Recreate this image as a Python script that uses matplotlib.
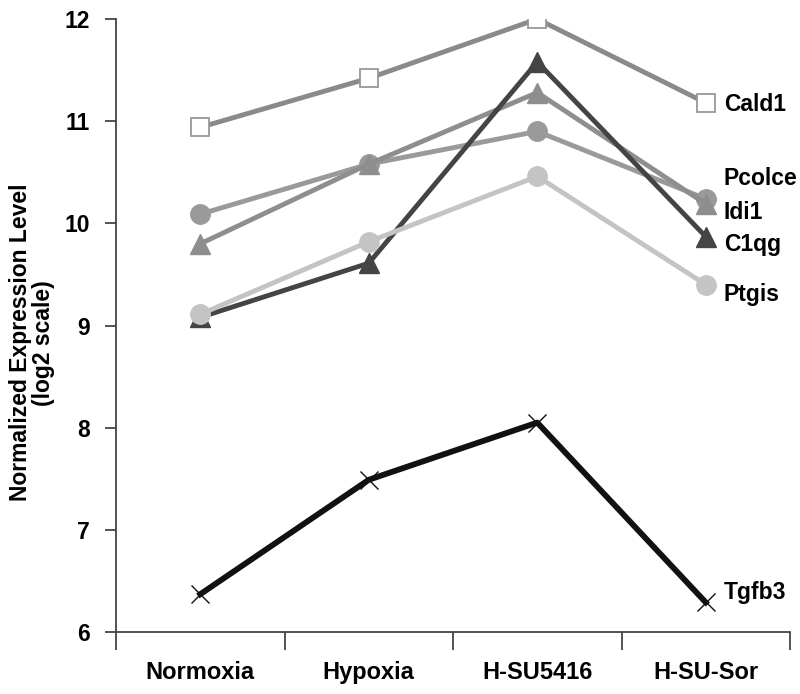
import matplotlib.pyplot as plt

conditions = ['Normoxia', 'Hypoxia', 'H-SU5416', 'H-SU-Sor']
genes = ['Cald1', 'Pcolce', 'Idi1', 'C1qg', 'Ptgis', 'Tgfb3']

cald1 = [10.94, 11.42, 12.00, 11.18]
pcolce = [10.09, 10.58, 10.90, 10.24]
idi1 = [9.80, 10.58, 11.28, 10.19]
c1qg = [9.08, 9.61, 11.58, 9.87]
ptgis = [9.11, 9.82, 10.46, 9.40]
tgfb3 = [6.37, 7.49, 8.05, 6.29]

# label heights at the right end (data units)
label_y = [11.16, 10.44, 10.11, 9.79, 9.30, 6.39]

plt.rcParams['font.family'] = 'Liberation Sans'
plt.rcParams['font.weight'] = 'bold'

fig = plt.figure(figsize=(8, 6.94), dpi=100)
ax = fig.add_axes([0.145, 0.0893, 0.8425, 0.8833])

x = [0.5, 1.5, 2.5, 3.5]
series = [
    (cald1, dict(color='#8a8a8a', marker='s', markersize=13, markerfacecolor='white',
                 markeredgecolor='#999999', markeredgewidth=1.3, linewidth=3.5)),
    (pcolce, dict(color='#9a9a9a', marker='o', markersize=14, linewidth=3.5)),
    (idi1, dict(color='#8e8e8e', marker='^', markersize=14, linewidth=3.5)),
    (c1qg, dict(color='#444444', marker='^', markersize=14, linewidth=3.5)),
    (ptgis, dict(color='#c4c4c4', marker='o', markersize=14, linewidth=3.5)),
    (tgfb3, dict(color='#111111', marker='x', markersize=13, markeredgewidth=1.0, linewidth=4.2)),
]
for vals, style in series:
    ax.plot(x, vals, **style)

for g, ly in zip(genes, label_y):
    ax.annotate(g, xy=(3.5, ly), xytext=(13, 0), textcoords='offset points',
                va='center', ha='left', fontsize=16.5, fontweight='bold')

ax.set_xlim(0, 4)
ax.set_ylim(6, 12)
ax.set_xticks([0, 1, 2, 3, 4])
ax.set_xticklabels([])
ax.set_xticks(x, minor=True)
ax.set_xticklabels(conditions, minor=True, fontsize=17, fontweight='bold')
ax.tick_params(axis='x', which='minor', length=0, pad=21)
ax.tick_params(axis='x', which='major', length=13, width=1.3, color='#444444', direction='out')
ax.set_yticks([6, 7, 8, 9, 10, 11, 12])
ax.tick_params(axis='y', length=8, width=1.3, color='#444444', labelsize=16.5, pad=11)

ax.spines['top'].set_visible(False)
ax.spines['right'].set_visible(False)
for side in ['left', 'bottom']:
    ax.spines[side].set_color('#444444')
    ax.spines[side].set_linewidth(1.3)

ax.set_ylabel('Normalized Expression Level\n(log2 scale)', fontsize=16.5, fontweight='bold',
              linespacing=1.0)
ax.yaxis.set_label_coords(-0.091, 0.472)

fig.savefig('out.png', dpi=100)
